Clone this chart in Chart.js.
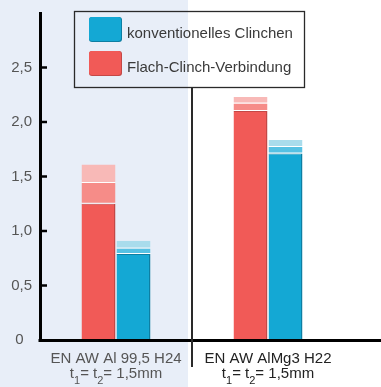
<!DOCTYPE html>
<html>
<head>
<meta charset="utf-8">
<script src="https://cdn.jsdelivr.net/npm/chart.js@4/dist/chart.umd.min.js"></script>
<style>
  html, body { margin: 0; padding: 0; background: #fff; }
  #wrap { width: 381px; height: 387px; }
</style>
</head>
<body>
<div id="wrap"><canvas id="c"></canvas></div>
<script>
// Materials and sheet thickness (t1 = t2)
const categories = ['EN AW Al 99,5 H24', 'EN AW AlMg3 H22'];
const sheetThickness = ['1,5mm', '1,5mm'];
const seriesNames = ['konventionelles Clinchen', 'Flach-Clinch-Verbindung'];

// Flach-Clinch-Verbindung: base value and upper limits of the two scatter bands
const flachBase = [1.25, 2.10];
const flachMid  = [1.44, 2.17];
const flachTop  = [1.61, 2.23];

// konventionelles Clinchen: base value and upper limits of the two scatter bands
const konvBase = [0.79, 1.71];
const konvMid  = [0.84, 1.77];
const konvTop  = [0.91, 1.835];

const yTicks = [0, 0.5, 1.0, 1.5, 2.0, 2.5];

const FONT = "'Liberation Sans', Arial, sans-serif";
const RED  = ['#F15A57', '#F68C88', '#F8B9B7'];
const BLUE = ['#14A8D4', '#56C1E3', '#A9DCEC'];

function band(hi, lo) { return hi.map((v, i) => +(v - lo[i]).toFixed(3)); }

function baseSet(label, stack, data, color, edge) {
  return { label, stack, data, backgroundColor: color, borderColor: edge,
           borderWidth: { top: 1, right: 1.5, bottom: 0, left: 0 }, borderSkipped: false };
}
function bandSet(stack, data, color) {
  return { label: '', stack, data, backgroundColor: color, borderColor: 'rgba(255,255,255,0.95)',
           borderWidth: { top: 0, right: 0, bottom: 1, left: 0 }, borderSkipped: false };
}

const datasets = [
  baseSet(seriesNames[1], 'flach', flachBase, RED[0], '#C44846'),
  bandSet('flach', band(flachMid, flachBase), RED[1]),
  bandSet('flach', band(flachTop, flachMid), RED[2]),
  baseSet(seriesNames[0], 'konv', konvBase, BLUE[0], '#0D7FA3'),
  bandSet('konv', band(konvMid, konvBase), BLUE[1]),
  bandSet('konv', band(konvTop, konvMid), BLUE[2])
];

const decor = {
  id: 'decor',
  beforeDraw(chart) {
    const { ctx, width, height, scales: { x } } = chart;
    const divX = (x.getPixelForValue(0) + x.getPixelForValue(1)) / 2;
    ctx.save();
    ctx.fillStyle = '#fff';
    ctx.fillRect(0, 0, width, height);
    ctx.fillStyle = '#E8EEF8';
    ctx.fillRect(0, 0, divX - 4, height);
    ctx.restore();
  },
  afterDraw(chart) {
    const { ctx, width, chartArea: ca, scales: { x, y } } = chart;
    const divX = (x.getPixelForValue(0) + x.getPixelForValue(1)) / 2;
    ctx.save();

    // baseline across the full width
    ctx.fillStyle = '#000';
    ctx.fillRect(ca.left - 1.5, ca.bottom - 1, width - ca.left + 1.5, 3);

    // inward tick marks on the value axis
    yTicks.forEach(v => {
      if (v === 0) return;
      const py = y.getPixelForValue(v);
      ctx.fillRect(ca.left, py - 1.25, 7, 2.5);
    });

    // group divider
    ctx.strokeStyle = '#2a2a2a';
    ctx.lineWidth = 2;
    ctx.beginPath();
    ctx.moveTo(divX, 88);
    ctx.lineTo(divX, 367);
    ctx.stroke();

    // category labels with subscripted thickness line
    categories.forEach((name, i) => {
      const cx = x.getPixelForValue(i);
      ctx.fillStyle = i === 0 ? '#555' : '#222';
      ctx.font = '15px ' + FONT;
      ctx.textAlign = 'center';
      ctx.textBaseline = 'alphabetic';
      ctx.fillText(name, cx, 363);

      const parts = [['t', 0], ['1', 1], ['= t', 0], ['2', 1], ['= ' + sheetThickness[i], 0]];
      const w = parts.reduce((s, [t, sub]) => {
        ctx.font = (sub ? '11px ' : '15px ') + FONT;
        return s + ctx.measureText(t).width;
      }, 0);
      let px = cx - w / 2;
      ctx.textAlign = 'left';
      parts.forEach(([t, sub]) => {
        ctx.font = (sub ? '11px ' : '15px ') + FONT;
        ctx.fillText(t, px, sub ? 384 : 378);
        px += ctx.measureText(t).width;
      });
    });

    // legend box
    ctx.strokeStyle = '#2a2a2a';
    ctx.lineWidth = 1.3;
    ctx.strokeRect(74.5, 11.5, 230, 76);
    const items = [[seriesNames[0], BLUE[0], '#0D7FA3', 17], [seriesNames[1], RED[0], '#C44846', 51]];
    items.forEach(([label, fill, edge, top]) => {
      ctx.fillStyle = edge;
      ctx.beginPath();
      ctx.roundRect(89, top, 33, 25, 3);
      ctx.fill();
      ctx.fillStyle = fill;
      ctx.beginPath();
      ctx.roundRect(89, top, 32, 24, 3);
      ctx.fill();
      ctx.fillStyle = '#3a3a3a';
      ctx.font = '15px ' + FONT;
      ctx.textAlign = 'left';
      ctx.textBaseline = 'alphabetic';
      ctx.fillText(label, 127, top + 20.5);
    });
    ctx.restore();
  }
};

new Chart(document.getElementById('c'), {
  type: 'bar',
  data: { labels: categories, datasets },
  options: {
    responsive: true,
    maintainAspectRatio: false,
    animation: false,
    categoryPercentage: 0.4605,
    barPercentage: 0.971,
    layout: { padding: { top: 13, right: 37, left: 0, bottom: 0 } },
    plugins: { legend: { display: false }, tooltip: { enabled: false } },
    scales: {
      x: {
        type: 'category',
        stacked: true,
        ticks: { display: false },
        grid: { display: false, drawTicks: false },
        border: { display: false },
        afterFit(s) { s.height = 47; s.paddingLeft = 0; s.paddingRight = 0; }
      },
      y: {
        type: 'linear',
        stacked: true,
        min: 0,
        max: 3,
        afterBuildTicks(s) { s.ticks = yTicks.map(v => ({ value: v })); },
        ticks: {
          padding: 8,
          color: '#555',
          font: { size: 15, family: FONT },
          callback: v => v === 0 ? '0  ' : v.toFixed(1).replace('.', ',')
        },
        grid: { display: false, drawTicks: false },
        border: { display: true, color: '#000', width: 3 },
        afterFit(s) { s.width = 40; s.paddingTop = 0; s.paddingBottom = 0; }
      }
    }
  },
  plugins: [decor]
});
</script>
</body>
</html>
